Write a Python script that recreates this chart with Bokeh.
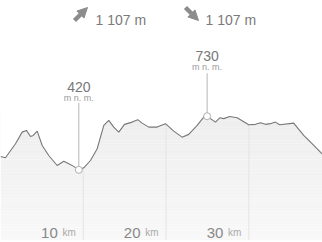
from bokeh.plotting import figure
from bokeh.models import Range1d, Label, ColumnDataSource, Arrow, NormalHead
from bokeh.core.properties import value
from bokeh.embed import file_html
from bokeh.resources import INLINE

# ---- data ----
dist_km = [0, 0.6, 1.81, 2.62, 3.14, 3.62, 3.95, 4.43, 5.04, 5.83, 6.85, 7.64, 8.25, 8.85,
           9.46, 10.06, 10.87, 11.68, 12.48, 13.08, 13.68, 14.29, 14.98, 15.91, 16.58, 17.11,
           17.91, 18.92, 19.93, 20.93, 21.94, 22.74, 23.76, 24.55, 24.96, 25.97, 26.49, 26.97,
           27.69, 28.59, 29.99, 30.8, 31.4, 32.0, 32.6, 33.2, 33.73, 35.42, 36.63, 37.64,
           38.85, 39.5]
elev_m = [497, 490, 571, 638, 648, 613, 619, 644, 561, 503, 445, 470, 455, 440,
          420, 432, 474, 542, 677, 706, 667, 638, 683, 696, 710, 690,
          667, 667, 687, 644, 609, 625, 677, 725, 730, 696, 721, 716,
          728, 721, 681, 683, 692, 683, 687, 696, 681, 690, 619, 571,
          513, 480]
tick_km = [10, 20, 30]
tick_labels = ["10", "20", "30"]
tick_unit = "km"
ascent_text = "1 107 m"
descent_text = "1 107 m"
extreme_unit = "m n. m."

FONT = value("Liberation Sans")
W, H = 322, 242
Y0, Y1 = 11.5, 1399
X0, X1 = 0, 38.9

p = figure(width=W, height=H, output_backend="svg", toolbar_location=None,
           x_range=Range1d(X0, X1), y_range=Range1d(Y0, Y1),
           min_border_left=0, min_border_right=0, min_border_top=0, min_border_bottom=2)
p.axis.visible = False
p.grid.visible = False
p.outline_line_color = None
p.background_fill_color = "white"
p.border_fill_color = "white"

# gradient fill (bands), later masked above the profile
nb = 40
top = 760
for i in range(nb):
    b = Y0 + (top - Y0) * i / nb
    t = Y0 + (top - Y0) * (i + 1) / nb
    c = int(round(248 - (248 - 237) * i / (nb - 1)))
    p.quad(left=X0, right=X1, bottom=b, top=t, fill_color=(c, c, c), line_color=None)

# vertical grid lines
p.segment(x0=tick_km, x1=tick_km, y0=[Y0] * 3, y1=[Y1] * 3, line_color="#e4e4e4", line_width=1)

# mask above profile
src = ColumnDataSource(dict(x=dist_km, y=elev_m, top=[Y1] * len(dist_km)))
p.varea(x="x", y1="y", y2="top", source=src, fill_color="white")
p.line(x="x", y="y", source=src, line_color="#777777", line_width=1.1)

# extremes
i_min = elev_m.index(min(elev_m))
i_max = elev_m.index(max(elev_m))
mpp = (Y1 - Y0) / 240.0
for idx, lab_off, unit_off, stem in [(i_min, -83, -72, 67), (i_max, -60, -49, 43)]:
    xk, ev = dist_km[idx], elev_m[idx]
    p.segment(x0=[xk], x1=[xk], y0=[ev], y1=[ev + stem * mpp], line_color="#b5b5b5", line_width=1)
    p.scatter(x=[xk], y=[ev], size=7, fill_color="white", line_color="#b0b0b0", line_width=1)
    p.text(x=[xk], y=[ev], text=[str(ev)], y_offset=lab_off, text_align="center",
           text_baseline="alphabetic", text_font=FONT, text_font_size="14px", text_color="#777777")
    p.text(x=[xk], y=[ev], text=[extreme_unit], y_offset=unit_off, text_align="center",
           text_baseline="alphabetic", text_font=FONT, text_font_size="9px", text_color="#9a9a9a")

# distance labels
p.text(x=tick_km, y=[Y0] * 3, text=tick_labels, x_offset=-25.5, y_offset=-8,
       text_align="right", text_baseline="alphabetic", text_font=FONT,
       text_font_size="15px", text_color="#888888")
p.text(x=tick_km, y=[Y0] * 3, text=[tick_unit] * 3, x_offset=-7.5, y_offset=-8,
       text_align="right", text_baseline="alphabetic", text_font=FONT,
       text_font_size="10px", text_color="#aaaaaa")

# header arrows + texts
ARROW_C = "#8c8c8c"
for (xs, ys, xe, ye) in [(74, H - 22, 87, H - 9), (185, H - 9, 198, H - 22)]:
    p.add_layout(Arrow(x_start=xs, y_start=ys, x_end=xe, y_end=ye,
                       start_units="screen", end_units="screen",
                       line_color=ARROW_C, line_width=4.5,
                       end=NormalHead(size=10, fill_color=ARROW_C, line_color=ARROW_C, line_width=1)))
for tx, txt in [(95, ascent_text), (205, descent_text)]:
    p.add_layout(Label(x=tx, y=H - 21, x_units="screen", y_units="screen", text=txt,
                       text_align="left", text_baseline="alphabetic",
                       text_font="Liberation Sans", text_font_size="14px", text_color="#7a7a7a"))

open("out.html", "w").write(file_html(p, INLINE))
